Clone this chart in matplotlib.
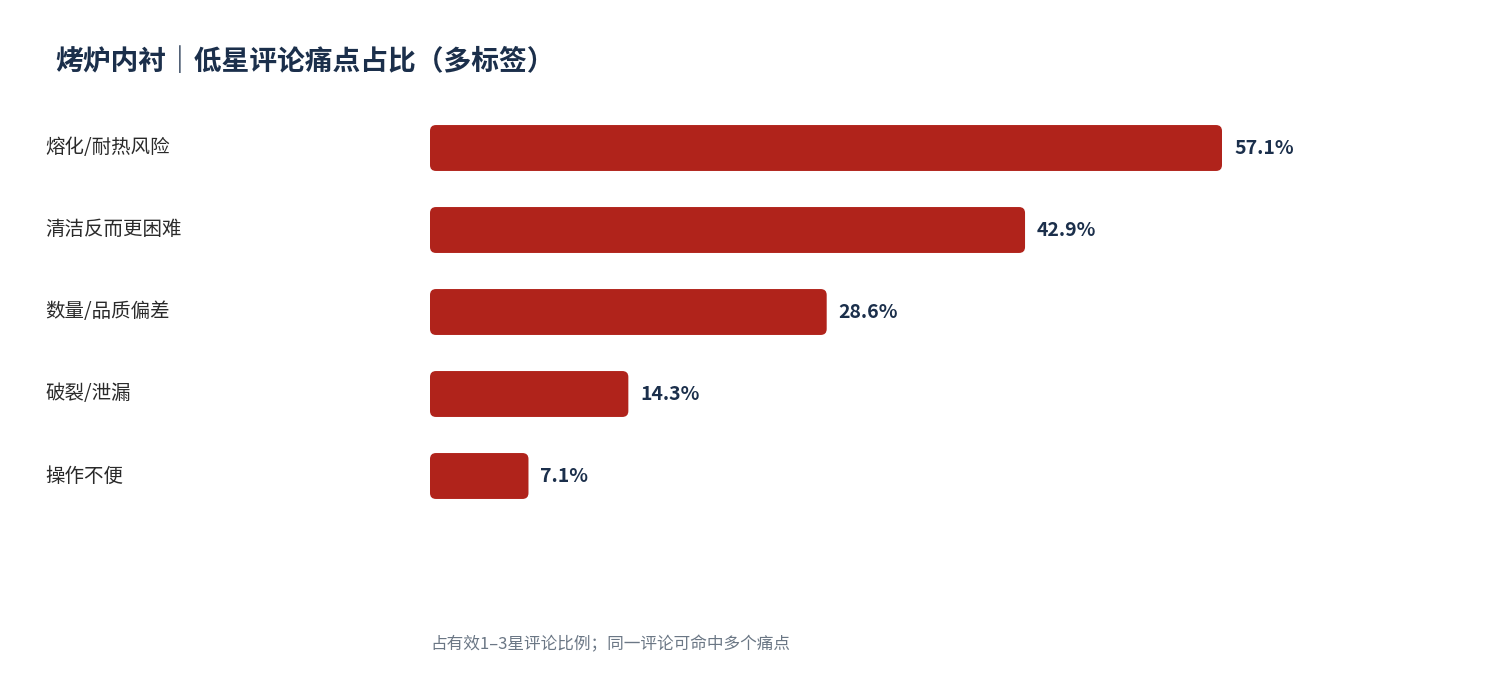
import matplotlib.pyplot as plt
from matplotlib.patches import FancyBboxPatch

plt.rcParams['font.family'] = ['Noto Sans CJK SC', 'DejaVu Sans']

categories = ['熔化/耐热风险', '清洁反而更困难', '数量/品质偏差', '破裂/泄漏', '操作不便']
values = [57.1, 42.9, 28.6, 14.3, 7.1]

bar_color = '#b0231b'
text_color = '#1b2f4b'

fig = plt.figure(figsize=(15, 7), dpi=100)
ax = fig.add_axes([430 / 1500, 1 - 517 / 700, 1040 / 1500, 410 / 700])
xmax = 1040 / (792 / 57.1)
ax.set_xlim(0, xmax)
ax.set_ylim(len(categories) - 0.5, -0.5)
ax.axis('off')

h = 0.56
px_x = xmax / 1040
px_y = 5 / 410
for i, (cat, v) in enumerate(zip(categories, values)):
    box = FancyBboxPatch((0, i - h / 2), v, h,
                         boxstyle=f'round,pad=0,rounding_size={6 * px_x}',
                         mutation_aspect=px_y / px_x,
                         facecolor=bar_color, edgecolor='none')
    ax.add_patch(box)
    ax.text(v + 12 * px_x, i, f'{v:.1f}%', va='center', ha='left',
            fontsize=14, fontweight='bold', color=text_color)
    fig.text(45 / 1500, 1 - (148 + 82 * i) / 700, cat, va='center', ha='left',
             fontsize=14, color='#2a2a2a')

fig.text(55 / 1500, 1 - 62 / 700, '烤炉内衬｜低星评论痛点占比（多标签）',
         fontsize=20, fontweight='bold', color=text_color, va='center', ha='left')
fig.text(430 / 1500, 1 - 645 / 700, '占有效1–3星评论比例；同一评论可命中多个痛点',
         fontsize=12, color='#6b7785', va='center', ha='left')

fig.savefig('out.png', dpi=100, facecolor='white')
